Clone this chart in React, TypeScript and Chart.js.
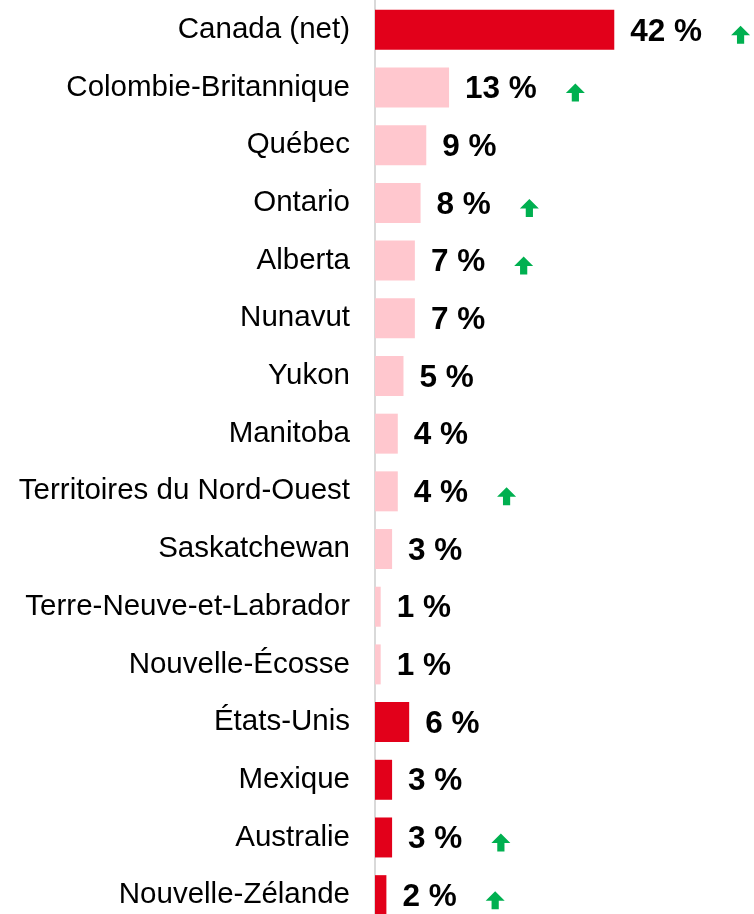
import React, { useEffect, useRef } from "react";
import { Chart, registerables } from "chart.js";

Chart.register(...registerables);

const categories = [
  "Canada (net)",
  "Colombie-Britannique",
  "Québec",
  "Ontario",
  "Alberta",
  "Nunavut",
  "Yukon",
  "Manitoba",
  "Territoires du Nord-Ouest",
  "Saskatchewan",
  "Terre-Neuve-et-Labrador",
  "Nouvelle-Écosse",
  "États-Unis",
  "Mexique",
  "Australie",
  "Nouvelle-Zélande",
];
const values = [42, 13, 9, 8, 7, 7, 5, 4, 4, 3, 1, 1, 6, 3, 3, 2];
const valueLabels = ["42 %", "13 %", "9 %", "8 %", "7 %", "7 %", "5 %", "4 %", "4 %", "3 %", "1 %", "1 %", "6 %", "3 %", "3 %", "2 %"];
const isRegion = [false, true, true, true, true, true, true, true, true, true, true, true, false, false, false, false];
const upArrows = [true, true, false, true, true, false, false, false, true, false, false, false, false, false, true, true];

const RED = "#E2001A";
const PINK = "#FFC7CE";
const GREEN = "#00B050";
const FONT = '"Liberation Sans", Arial, sans-serif';

const labelPlugin = {
  id: "valueLabels",
  afterDatasetsDraw(chart: any) {
    const ctx = chart.ctx;
    const meta = chart.getDatasetMeta(0);
    ctx.save();
    meta.data.forEach((bar: any, i: number) => {
      const text = valueLabels[i];
      ctx.font = `bold 31.5px ${FONT}`;
      ctx.fillStyle = "#000";
      ctx.textAlign = "left";
      ctx.textBaseline = "middle";
      const tx = bar.x + 16;
      ctx.fillText(text, tx, bar.y + 2);
      if (upArrows[i]) {
        const w = ctx.measureText(text).width;
        const cx = tx + w + 29 + 9.5;
        const top = bar.y - 4;
        ctx.fillStyle = GREEN;
        ctx.beginPath();
        ctx.moveTo(cx, top);
        ctx.lineTo(cx + 9.5, top + 9.5);
        ctx.lineTo(cx + 3.6, top + 9.5);
        ctx.lineTo(cx + 3.6, top + 18);
        ctx.lineTo(cx - 3.6, top + 18);
        ctx.lineTo(cx - 3.6, top + 9.5);
        ctx.lineTo(cx - 9.5, top + 9.5);
        ctx.closePath();
        ctx.fill();
      }
    });
    ctx.restore();
  },
};

export default function App() {
  const ref = useRef<HTMLCanvasElement | null>(null);
  useEffect(() => {
    document.body.style.margin = "0";
    document.body.style.overflow = "hidden";
    const chart = new Chart(ref.current as HTMLCanvasElement, {
      type: "bar",
      data: {
        labels: categories,
        datasets: [
          {
            data: values,
            backgroundColor: isRegion.map((r) => (r ? PINK : RED)),
            borderWidth: 0,
            categoryPercentage: 1,
            barPercentage: 0.693,
          },
        ],
      },
      options: {
        indexAxis: "y",
        animation: false,
        responsive: false,
        maintainAspectRatio: false,
        layout: { autoPadding: false, padding: { top: 1, right: 3, left: 0, bottom: 0 } },
        plugins: { legend: { display: false }, tooltip: { enabled: false } },
        scales: {
          x: { display: false, min: 0, max: 66 },
          y: {
            grid: { display: false, drawTicks: false },
            border: { color: "#D9D9D9", width: 2 },
            ticks: { color: "#000", padding: 25, autoSkip: false, font: { family: FONT, size: 29.5 } },
            afterFit(scale: any) {
              scale.width = 375;
              scale.paddingTop = 0;
              scale.paddingBottom = 0;
            },
          },
        },
      },
      plugins: [labelPlugin],
    } as any);
    return () => chart.destroy();
  }, []);
  return (
    <div style={{ width: 754, height: 914, overflow: "hidden" }}>
      <canvas ref={ref} width={754} height={924} />
    </div>
  );
}
